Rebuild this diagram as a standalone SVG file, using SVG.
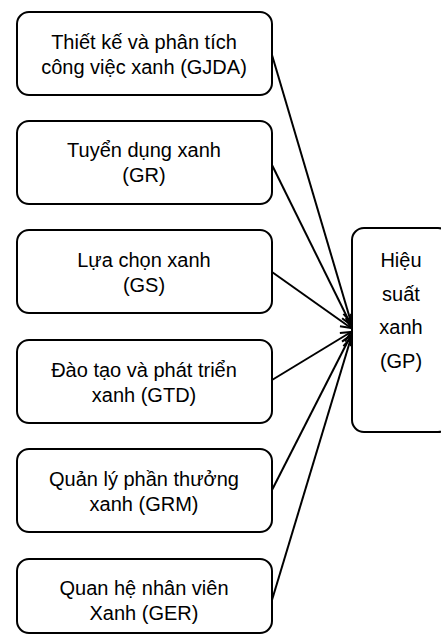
<svg xmlns="http://www.w3.org/2000/svg" width="441" height="635" viewBox="0 0 441 635">
<style>
.box{fill:#fff;stroke:#000;stroke-width:2}
.t{font-family:"Liberation Sans",Arial,sans-serif;font-size:20px;fill:#000;text-anchor:middle}
.e{stroke:#000;stroke-width:2;fill:none;marker-end:url(#arr)}
</style>
<defs>
<marker id="arr" markerUnits="userSpaceOnUse" markerWidth="14" markerHeight="14" refX="11" refY="7" orient="auto" overflow="visible">
<path d="M1,2 L11,7 L1,12" fill="none" stroke="#000" stroke-width="2"/>
</marker>
</defs>
<rect width="441" height="635" fill="#fff"/>
<g id="connectors">
<line class="e" x1="272" y1="55" x2="351" y2="322"/>
<line class="e" x1="272" y1="165" x2="351" y2="325"/>
<line class="e" x1="272" y1="272" x2="351" y2="328"/>
<line class="e" x1="272" y1="380" x2="351" y2="332"/>
<line class="e" x1="272" y1="490" x2="351" y2="335"/>
<line class="e" x1="272" y1="600" x2="351" y2="338"/>
</g>
<g id="GJDA">
<rect class="box" x="17" y="12" width="255" height="83" rx="12"/>
<text class="t" x="144" y="49">Thiết kế và phân tích</text>
<text class="t" x="144" y="74">công việc xanh (GJDA)</text>
</g>
<g id="GR">
<rect class="box" x="17" y="121" width="255" height="83" rx="12"/>
<text class="t" x="144" y="157">Tuyển dụng xanh</text>
<text class="t" x="144" y="182">(GR)</text>
</g>
<g id="GS">
<rect class="box" x="17" y="230" width="255" height="83" rx="12"/>
<text class="t" x="144" y="267">Lựa chọn xanh</text>
<text class="t" x="144" y="292">(GS)</text>
</g>
<g id="GTD">
<rect class="box" x="17" y="340" width="255" height="83" rx="12"/>
<text class="t" x="144" y="377">Đào tạo và phát triển</text>
<text class="t" x="144" y="402">xanh (GTD)</text>
</g>
<g id="GRM">
<rect class="box" x="17" y="449" width="255" height="83" rx="12"/>
<text class="t" x="144" y="486">Quản lý phần thưởng</text>
<text class="t" x="144" y="511">xanh (GRM)</text>
</g>
<g id="GER">
<rect class="box" x="17" y="559" width="255" height="74" rx="12"/>
<text class="t" x="144" y="595">Quan hệ nhân viên</text>
<text class="t" x="144" y="620">Xanh (GER)</text>
</g>
<g id="GP">
<rect class="box" x="352" y="228" width="98" height="204" rx="12"/>
<text class="t" x="401" y="267">Hiệu</text>
<text class="t" x="401" y="301">suất</text>
<text class="t" x="401" y="334">xanh</text>
<text class="t" x="401" y="368">(GP)</text>
</g>
</svg>
